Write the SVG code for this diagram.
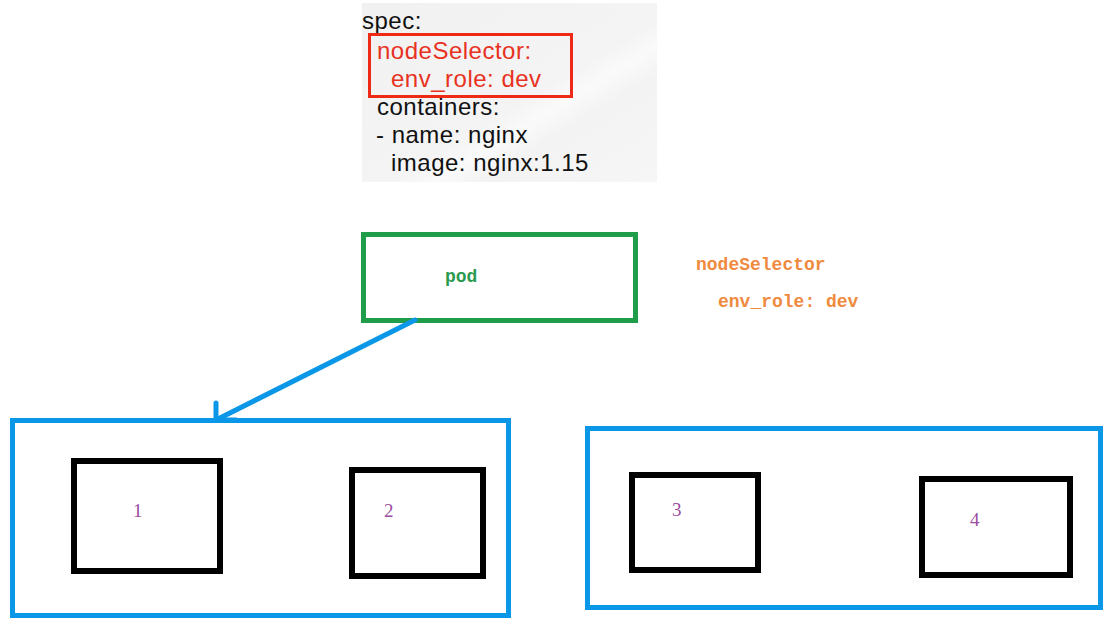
<svg xmlns="http://www.w3.org/2000/svg" width="1113" height="625" viewBox="0 0 1113 625">
  <defs>
    <linearGradient id="bg" x1="0" y1="0" x2="1" y2="1">
      <stop offset="0" stop-color="#f1f1f1"/>
      <stop offset="0.55" stop-color="#f4f4f4"/>
      <stop offset="0.62" stop-color="#fafafa"/>
      <stop offset="0.7" stop-color="#f3f3f3"/>
      <stop offset="1" stop-color="#f6f6f6"/>
    </linearGradient>
    <style>
      .code { font-family: "Liberation Sans", Arial, sans-serif; font-size: 24px; letter-spacing: 0.5px; fill: #111; }
      .red { fill: #e8311e; }
      .mono { font-family: "Liberation Mono", "Courier New", monospace; font-size: 18px; font-weight: bold; }
      .host { fill: none; stroke: #0a97e8; stroke-width: 5; }
      .node { fill: none; stroke: #000; stroke-width: 6; }
      .num { font-family: "Liberation Serif", serif; font-size: 19px; fill: #9b4c9f; }
    </style>
  </defs>
  <rect width="1113" height="625" fill="#fff"/>

  <g id="spec">
    <rect x="362" y="3" width="295" height="179" fill="url(#bg)"/>
    <text class="code" x="362" y="29">spec:</text>
    <rect x="369.5" y="34.5" width="202" height="62" fill="none" stroke="#ee2a16" stroke-width="3"/>
    <text class="code red" x="377" y="59">nodeSelector:</text>
    <text class="code red" x="391" y="87">env_role: dev</text>
    <text class="code" x="377" y="115">containers:</text>
    <text class="code" x="376" y="143">- name: nginx</text>
    <text class="code" x="391" y="171">image: nginx:1.15</text>
  </g>

  <g id="pod">
    <rect x="363.5" y="234.5" width="272" height="86" fill="none" stroke="#1f9d4b" stroke-width="5"/>
    <text class="mono" x="445" y="282" fill="#2a9a50">pod</text>
  </g>

  <g id="selector-note">
    <text class="mono" x="696" y="270" fill="#ef8a3e">nodeSelector</text>
    <text class="mono" x="718" y="307" fill="#ef8a3e">env_role: dev</text>
  </g>

  <g id="host1">
    <rect class="host" x="12.5" y="420.5" width="496" height="195"/>
    <g id="node1">
      <rect class="node" x="74" y="461" width="146" height="110"/>
      <text class="num" x="133" y="517">1</text>
    </g>
    <g id="node2">
      <rect class="node" x="352" y="470" width="131" height="106"/>
      <text class="num" x="384" y="517">2</text>
    </g>
  </g>

  <g id="host2">
    <rect class="host" x="587.5" y="428.5" width="513" height="179"/>
    <g id="node3">
      <rect class="node" x="632" y="475" width="126" height="95"/>
      <text class="num" x="672" y="516">3</text>
    </g>
    <g id="node4">
      <rect class="node" x="922" y="479" width="148" height="96"/>
      <text class="num" x="970" y="526">4</text>
    </g>
  </g>

  <g id="connectors" fill="none" stroke="#0a97e8" stroke-width="5" stroke-linecap="round" stroke-linejoin="round">
    <path d="M415,320 L218,419"/>
    <path d="M216,403 L216,420 L236,420"/>
  </g>
</svg>
